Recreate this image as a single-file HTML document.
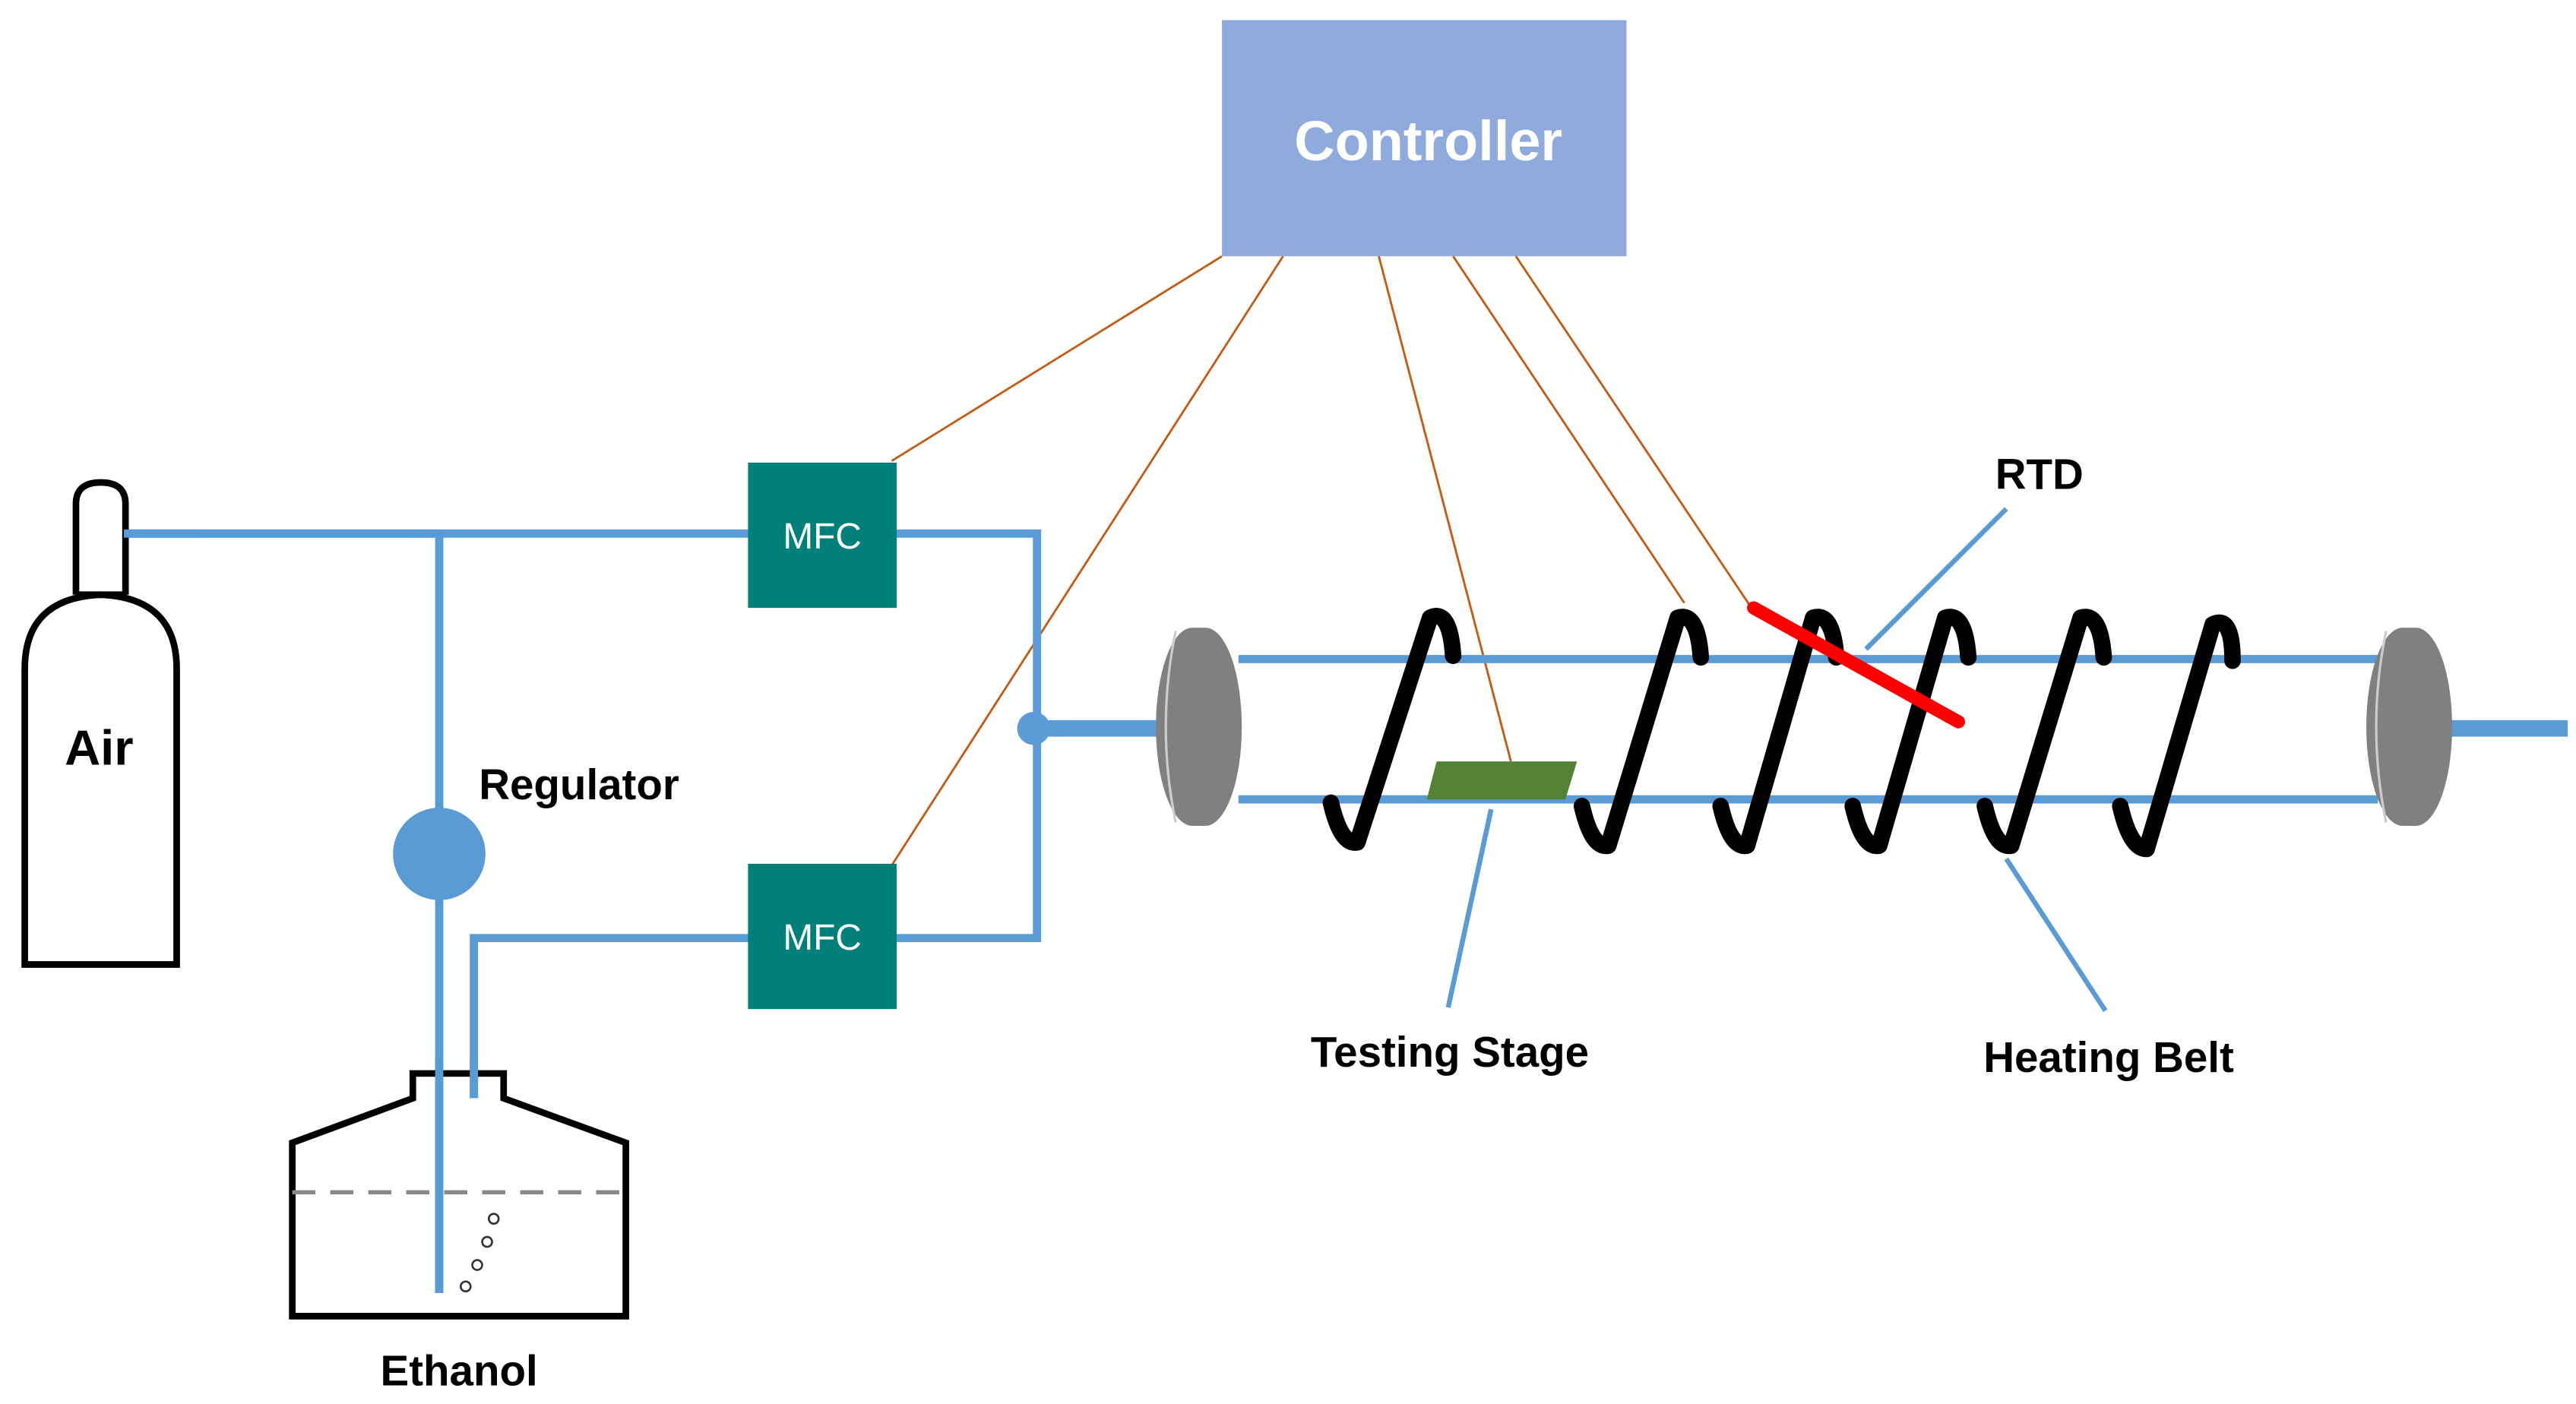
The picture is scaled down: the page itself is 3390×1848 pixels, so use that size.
<!DOCTYPE html>
<html><head><meta charset="utf-8"><style>
html,body{margin:0;padding:0;background:#fff}
svg{display:block}
text{font-family:"Liberation Sans",sans-serif;font-weight:bold}
</style></head><body>
<svg width="3390" height="1848" viewBox="0 0 1560 850" xmlns="http://www.w3.org/2000/svg">
<rect width="1560" height="850" fill="#fff"/>
<!-- Controller -->
<rect x="740" y="12" width="245" height="143" fill="#8faadc"/>
<text x="865" y="97" font-size="34" fill="#fff" text-anchor="middle">Controller</text>
<!-- orange wires -->
<g stroke="#c55a11" stroke-width="1.3" fill="none">
<line x1="740" y1="155" x2="540" y2="279"/>
<line x1="777" y1="155" x2="540" y2="524"/>
<line x1="835" y1="155" x2="915" y2="461"/>
<line x1="880" y1="155" x2="1020" y2="365"/>
<line x1="918" y1="155" x2="1060" y2="367"/>
</g>
<!-- blue pipes -->
<g stroke="#5b9bd5" stroke-width="5" fill="none">
<line x1="75" y1="323" x2="455" y2="323"/>
<polyline points="541,323 628,323 628,568 541,568"/>
<line x1="266" y1="323" x2="266" y2="783"/>
<polyline points="287,665 287,568 455,568"/>
<line x1="750" y1="399" x2="1440" y2="399"/>
<line x1="750" y1="484" x2="1440" y2="484"/>
</g>
<line x1="626" y1="441" x2="718" y2="441" stroke="#5b9bd5" stroke-width="10"/>
<line x1="1480" y1="441" x2="1555" y2="441" stroke="#5b9bd5" stroke-width="10"/>
<circle cx="626" cy="441" r="10" fill="#5b9bd5"/>
<circle cx="266" cy="517" r="28" fill="#5b9bd5"/>
<!-- MFC -->
<rect x="453" y="280" width="90" height="88" fill="#00807a"/>
<rect x="453" y="523" width="90" height="88" fill="#00807a"/>
<text x="498" y="332" font-size="22" fill="#fff" text-anchor="middle" font-weight="normal" style="font-weight:normal">MFC</text>
<text x="498" y="575" font-size="22" fill="#fff" text-anchor="middle" style="font-weight:normal">MFC</text>
<!-- Air cylinder -->
<g stroke="#000" stroke-width="4" fill="#fff">
<path d="M46,360 L46,305 Q46,292 61,292 Q76,292 76,305 L76,360"/>
<path d="M15,584 L15,405 Q15,362 61,360 Q107,362 107,405 L107,584 Z"/>
</g>
<line x1="75" y1="323" x2="120" y2="323" stroke="#5b9bd5" stroke-width="5"/>
<line x1="46" y1="360" x2="76" y2="360" stroke="#000" stroke-width="4"/>
<line x1="78" y1="323" x2="266" y2="323" stroke="#5b9bd5" stroke-width="5"/>
<text x="60" y="463" font-size="30" text-anchor="middle">Air</text>
<text x="290" y="484" font-size="26">Regulator</text>
<!-- Ethanol bottle -->
<path d="M177,797 L177,692 L250,665 L250,650 L305,650 L305,665 L379,692 L379,797 Z" stroke="#000" stroke-width="4" fill="none"/>
<line x1="177" y1="722" x2="379" y2="722" stroke="#888" stroke-width="2.5" stroke-dasharray="14,9"/>
<line x1="266" y1="640" x2="266" y2="783" stroke="#5b9bd5" stroke-width="5"/>
<line x1="287" y1="640" x2="287" y2="665" stroke="#5b9bd5" stroke-width="5"/>
<g stroke="#333" stroke-width="1.2" fill="none">
<circle cx="282" cy="779" r="3"/><circle cx="289" cy="766" r="3"/><circle cx="295" cy="752" r="3"/><circle cx="299" cy="738" r="3"/>
</g>
<text x="278" y="839" font-size="26" text-anchor="middle">Ethanol</text>
<!-- end caps -->
<rect x="700" y="380" width="52" height="120" rx="22" ry="60" fill="#808080"/>
<path d="M712,382 Q700,440 712,498" stroke="#ccc" stroke-width="1.5" fill="none"/>
<rect x="1433" y="380" width="52" height="120" rx="22" ry="60" fill="#808080"/>
<path d="M1445,382 Q1433,440 1445,498" stroke="#ccc" stroke-width="1.5" fill="none"/>
<!-- testing stage -->
<polygon points="870,461 955,461 948,484 864,484" fill="#548235"/>
<!-- coils -->
<g stroke="#000" stroke-width="10" fill="none" stroke-linecap="round" stroke-linejoin="round">
<path d="M806,486 Q812,512 822,510 L866,374 Q878,368 880,397"/>
<path d="M958,488 Q964,514 974,512 L1016,374 Q1028,370 1030,398"/>
<path d="M1042,488 Q1048,514 1058,512 L1098,374 Q1110,370 1112,398"/>
<path d="M1122,488 Q1128,514 1138,512 L1178,374 Q1190,370 1192,398"/>
<path d="M1202,488 Q1208,514 1218,512 L1260,374 Q1272,370 1274,398"/>
<path d="M1284,488 Q1290,514 1300,514 L1340,378 Q1352,372 1352,400"/>
</g>
<line x1="1062" y1="368" x2="1186" y2="437" stroke="#ff0000" stroke-width="8" stroke-linecap="round"/>
<!-- pointers -->
<g stroke="#5b9bd5" stroke-width="3" fill="none">
<line x1="1215" y1="308" x2="1130" y2="393"/>
<line x1="903" y1="490" x2="877" y2="610"/>
<line x1="1215" y1="520" x2="1275" y2="612"/>
</g>
<text x="1235" y="296" font-size="26" text-anchor="middle">RTD</text>
<text x="878" y="646" font-size="26" text-anchor="middle">Testing Stage</text>
<text x="1277" y="649" font-size="26" text-anchor="middle">Heating Belt</text>
</svg>
</body></html>
